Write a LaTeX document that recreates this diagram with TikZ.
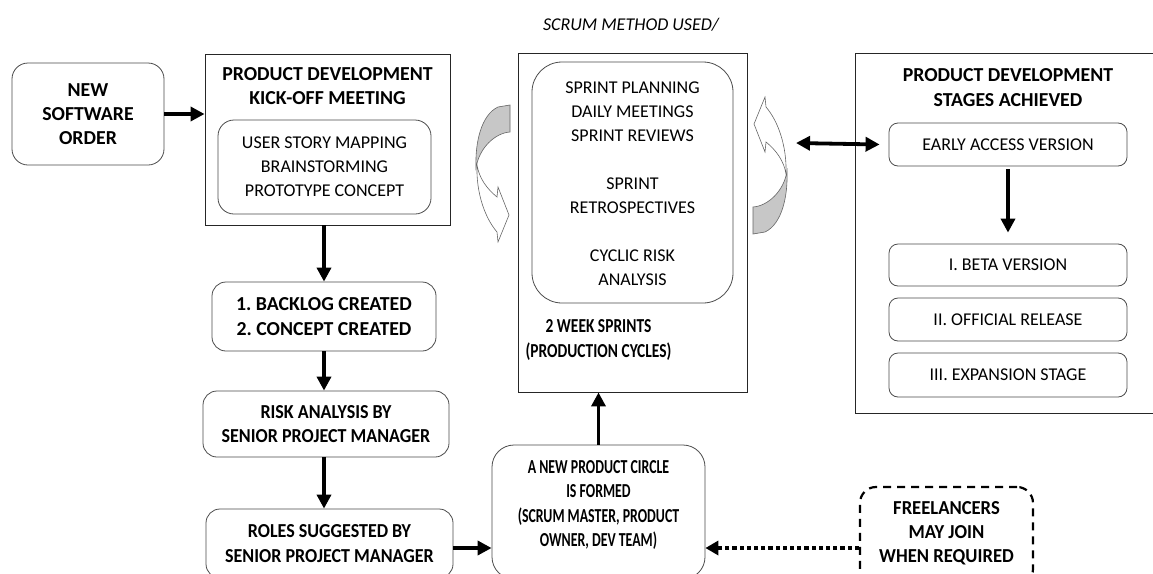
\documentclass[tikz,border=0pt]{standalone}
\usepackage{fontspec}
\setmainfont{Carlito}
\newfontfamily\condA{Carlito}[FakeStretch=0.70]
\newfontfamily\condB{Carlito}[FakeStretch=0.78]
\newfontfamily\condC{Carlito}[FakeStretch=0.91]
\newfontfamily\condD{Carlito}[FakeStretch=0.94]
\usetikzlibrary{arrows.meta}
\newcommand\fsz{\fontsize{18}{24.2}\selectfont}
\newcommand\bsz{\fontsize{19.8}{24.2}\selectfont\bfseries}
\frenchspacing
\begin{document}
\begin{tikzpicture}[x=1pt,y=-1pt,
  rbox/.style={draw=black!70, line width=0.8pt, rounded corners=12pt, align=center, inner sep=0pt},
  sbox/.style={draw=black!85, line width=0.9pt, inner sep=0pt},
  txt/.style={align=center, inner sep=0pt},
  arr/.style={line width=3.8pt, -{Triangle[length=14pt,width=14pt]}},
  dbl/.style={line width=3.8pt, {Triangle[length=14pt,width=14pt]}-{Triangle[length=14pt,width=14pt]}},
  dotarr/.style={line width=4.2pt, dash pattern=on 4.2pt off 3pt, -{Triangle[length=13pt,width=14pt]}},
  dbox/.style={draw=black, line width=2.2pt, dash pattern=on 8pt off 6pt, rounded corners=16pt, inner sep=0pt},
  backpart/.style={draw=black!60, line width=0.6pt, fill=black!22},
  frontpart/.style={draw=black!60, line width=0.6pt, fill=white}
]
\useasboundingbox (0,0) rectangle (1153,573);
\clip (0,0) rectangle (1153,573);
\fill[white] (0,0) rectangle (1153,573);

% left column
\node[rbox, minimum width=152pt, minimum height=102pt, rounded corners=16pt, font=\bsz] (order) at (88,114) {NEW\\SOFTWARE\\ORDER};
\node[sbox, minimum width=245pt, minimum height=171pt] (kick) at (327.5,139.5) {};
\node[txt, font=\bsz] (kicktitle) at (327.5,86) {PRODUCT DEVELOPMENT\\KICK-OFF MEETING};
\node[rbox, minimum width=213pt, minimum height=94pt, rounded corners=16pt, font=\fsz] (kickin) at (324.5,167) {USER STORY MAPPING\\BRAINSTORMING\\PROTOTYPE CONCEPT};
\node[rbox, minimum width=224pt, minimum height=69pt, rounded corners=14pt, font=\bsz] (backlog) at (324,316.5) {1. BACKLOG CREATED\\2. CONCEPT CREATED};
\node[rbox, minimum width=246pt, minimum height=66pt, rounded corners=14pt, font=\condC\bsz] (risk) at (326,424) {RISK ANALYSIS BY\\SENIOR PROJECT MANAGER};
\node[rbox, minimum width=247pt, minimum height=69pt, rounded corners=14pt, font=\condC\bsz] (roles) at (329.5,543.5) {ROLES SUGGESTED BY\\SENIOR PROJECT MANAGER};

% product circle
\node[rbox, minimum width=213pt, minimum height=134pt, rounded corners=22pt] (circle) at (598.5,512) {};
\node[txt, font=\condA\bsz] (circletext) at (598.5,505) {A NEW PRODUCT CIRCLE\\IS FORMED\\(SCRUM MASTER, PRODUCT\\OWNER, DEV TEAM)};

% scrum box
\node[txt, font=\fsz\itshape] (scrumtitle) at (631,25) {SCRUM METHOD USED/};
\node[sbox, minimum width=229pt, minimum height=339pt] (scrum) at (632.5,222.5) {};
\node[rbox, minimum width=201pt, minimum height=241pt, rounded corners=30pt] (scrumin) at (632.5,182.5) {};
\node[txt, font=\fsz] (scrumtext) at (632.5,184) {SPRINT PLANNING\\DAILY MEETINGS\\SPRINT REVIEWS\\[23.6pt]SPRINT\\RETROSPECTIVES\\[23.6pt]CYCLIC RISK\\ANALYSIS};
\node[txt, font=\condB\bsz] (sprints) at (598.5,340) {2 WEEK SPRINTS\\(PRODUCTION CYCLES)};

% stages box
\node[sbox, minimum width=315pt, minimum height=360pt] (stages) at (1012.5,233) {};
\node[txt, font=\bsz] (stagestitle) at (1008,87.5) {PRODUCT DEVELOPMENT\\STAGES ACHIEVED};
\node[rbox, minimum width=238pt, minimum height=43pt, rounded corners=9pt, font=\fsz] (early) at (1008,144.5) {EARLY ACCESS VERSION};
\node[rbox, minimum width=238pt, minimum height=42pt, rounded corners=9pt, font=\fsz] (beta) at (1008,265) {I. BETA VERSION};
\node[rbox, minimum width=238pt, minimum height=43pt, rounded corners=9pt, font=\fsz] (official) at (1008,319.5) {II. OFFICIAL RELEASE};
\node[rbox, minimum width=238pt, minimum height=44pt, rounded corners=9pt, font=\fsz] (expansion) at (1008,375) {III. EXPANSION STAGE};

% freelancers
\node[dbox, minimum width=173pt, minimum height=98pt] (free) at (946.5,536) {};
\node[txt, font=\condD\bsz] (freetext) at (946.5,533.5) {FREELANCERS\\MAY JOIN\\WHEN REQUIRED};

% connectors
\draw[arr] (order.east) -- (order.east -| kick.west);
\draw[arr] (backlog.north |- kick.south) -- (backlog.north);
\draw[arr] (backlog.south) -- (backlog.south |- risk.north);
\draw[arr] (backlog.south |- risk.south) -- (backlog.south |- roles.north);
\draw[arr] ([yshift=-4.5pt]roles.east) -- ([yshift=-4.5pt]roles.east -| circle.west);
\draw[arr] (circle.north) -- (circle.north |- scrum.south);
\coordinate (dblL) at (796,143);
\draw[dbl] (dblL) -- ([xshift=-9pt]early.west);
\draw[arr, shorten <=3pt, shorten >=11pt] (early.south) -- (beta.north);
\draw[dotarr] ([yshift=-12pt]free.west) -- ([yshift=-12pt]free.west -| circle.east);

% curved arrows
\begin{scope}[shift={(493,173)}]
  \path[backpart] (17,-68) -- (5,-66) .. controls (-12,-58) and (-18,-30) .. (-17,-5)
     .. controls (-14,-25) and (2,-40) .. (17,-41) -- cycle;
  \path[frontpart] (-16,-8) .. controls (-17,20) and (-8,45) .. (4,59) -- (5,69) -- (16,42) -- (5,14) -- (4,24)
     .. controls (-6,16) and (-14,5) .. (-16,-8) -- cycle;
\end{scope}
\begin{scope}[shift={(770,166)}, rotate=180]
  \path[backpart] (17,-68) -- (5,-66) .. controls (-12,-58) and (-18,-30) .. (-17,-5)
     .. controls (-14,-25) and (2,-40) .. (17,-41) -- cycle;
  \path[frontpart] (-16,-8) .. controls (-17,20) and (-8,45) .. (4,59) -- (5,69) -- (16,42) -- (5,14) -- (4,24)
     .. controls (-6,16) and (-14,5) .. (-16,-8) -- cycle;
\end{scope}
\end{tikzpicture}
\end{document}
